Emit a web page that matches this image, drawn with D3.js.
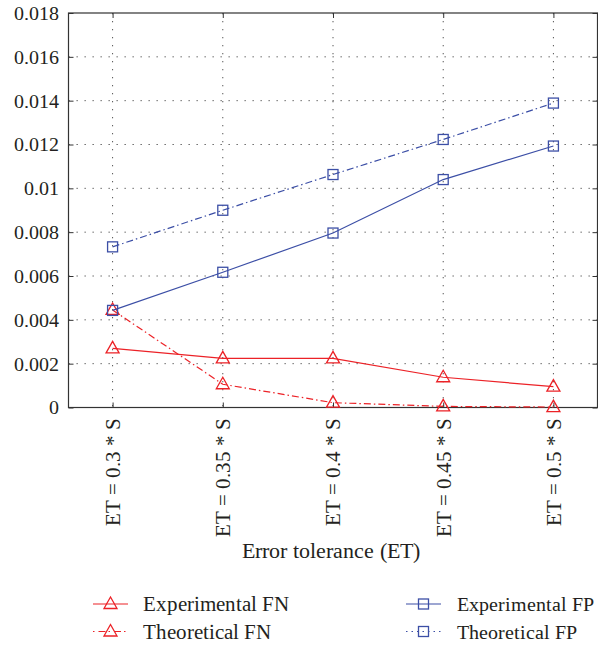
<!DOCTYPE html>
<html><head><meta charset="utf-8">
<script src="https://cdn.jsdelivr.net/npm/d3@7"></script>
<style>
@font-face{font-family:"ChartSerif";src:local("Liberation Serif"),local("LiberationSerif"),local("LiberationSerif-Regular");}
</style>
</head><body style="margin:0">
<svg id="c" width="598" height="646"></svg>
<script>
const categories = [0.3, 0.35, 0.4, 0.45, 0.5];
const catLabels = ["ET = 0.3 * S", "ET = 0.35 * S", "ET = 0.4 * S", "ET = 0.45 * S", "ET = 0.5 * S"];
const experimentalFN = [0.0027, 0.00224, 0.00224, 0.00138, 0.00095];
const theoreticalFN = [0.00445, 0.00106, 0.00022, 0.00005, 0.00002];
const experimentalFP = [0.00443, 0.00617, 0.00796, 0.0104, 0.01193];
const theoreticalFP = [0.00733, 0.009, 0.01063, 0.01223, 0.01389];
const yTicks = [0, 0.002, 0.004, 0.006, 0.008, 0.01, 0.012, 0.014, 0.016, 0.018];
const yTickLabels = ["0", "0.002", "0.004", "0.006", "0.008", "0.01", "0.012", "0.014", "0.016", "0.018"];
const xTitle = "Error tolerance (ET)";

const TXT = "#231f20";
const RED = "#ec2227", BLUE = "#3c4fa6";
const series = [
  {name: "Experimental FN", values: experimentalFN, color: RED, marker: "tri", dash: null},
  {name: "Theoretical FN", values: theoreticalFN, color: RED, marker: "tri", dash: "7,3,1.5,3"},
  {name: "Experimental FP", values: experimentalFP, color: BLUE, marker: "sq", dash: null},
  {name: "Theoretical FP", values: theoreticalFP, color: BLUE, marker: "sq", dash: "7,3,1.5,3"}
];

const L = 68.5, R = 597.5, T = 13, B = 407.5;
const x = d3.scaleLinear().domain([0.28, 0.52]).range([L, R]);
const y = d3.scaleLinear().domain([0, 0.018]).range([B, T]);
const svg = d3.select("#c");

function styleText(sel, size) {
  sel.style("font-family", '"ChartSerif", "Liberation Serif", serif').attr("font-size", size).attr("fill", TXT);
}

// grid
const g = svg.append("g");
g.selectAll(".gy").data(yTicks.slice(1, -1)).enter().append("line")
  .attr("x1", L).attr("x2", R).attr("y1", d => y(d)).attr("y2", d => y(d))
  .attr("stroke", "#555").attr("stroke-width", 1).attr("stroke-dasharray", "1.3,6.7");
g.selectAll(".gx").data(categories).enter().append("line")
  .attr("x1", d => x(d)).attr("x2", d => x(d)).attr("y1", T).attr("y2", B)
  .attr("stroke", "#555").attr("stroke-width", 1).attr("stroke-dasharray", "1.3,6.7");

// y tick labels and inward ticks
const yAxisL = d3.axisLeft(y).tickValues(yTicks).tickSize(-5).tickPadding(10).tickFormat((d, i) => yTickLabels[i]);
const ya = svg.append("g").attr("transform", `translate(${L},0)`).call(yAxisL);
ya.attr("font-family", null).attr("font-size", null);
ya.select(".domain").remove();
ya.selectAll("line").attr("stroke", "#333");
styleText(ya.selectAll("text"), 20);
const yr = svg.append("g").attr("transform", `translate(${R},0)`).call(d3.axisRight(y).tickValues(yTicks).tickSize(-5).tickFormat(""));
yr.select(".domain").remove(); yr.selectAll("line").attr("stroke", "#333");
const xt = svg.append("g").attr("transform", `translate(0,${T})`).call(d3.axisTop(x).tickValues(categories).tickSize(-5).tickFormat(""));
xt.select(".domain").remove(); xt.selectAll("line").attr("stroke", "#333");
const xb = svg.append("g").attr("transform", `translate(0,${B})`).call(d3.axisBottom(x).tickValues(categories).tickSize(-5).tickFormat(""));
xb.select(".domain").remove(); xb.selectAll("line").attr("stroke", "#333");
svg.append("rect").attr("x", L).attr("y", T).attr("width", R - L).attr("height", B - T)
  .attr("fill", "none").attr("stroke", "#333").attr("stroke-width", 1.2);

// x labels rotated
styleText(svg.append("g").selectAll("text").data(categories).enter().append("text")
  .attr("transform", d => `translate(${x(d)},418) rotate(-90)`)
  .attr("text-anchor", "end").attr("dy", "0.35em")
  .text((d, i) => catLabels[i]), 21);
styleText(svg.append("text").attr("x", (L + R) / 2 - 2).attr("y", 558).attr("text-anchor", "middle").text(xTitle), 21.5);

function marker(sel, type, color) {
  if (type === "sq") {
    sel.append("rect").attr("x", -5).attr("y", -5).attr("width", 10).attr("height", 10)
      .attr("fill", "none").attr("stroke", color).attr("stroke-width", 1.3);
  } else {
    sel.append("path").attr("d", "M0,-7 L6.5,4.5 L-6.5,4.5 Z")
      .attr("fill", "none").attr("stroke", color).attr("stroke-width", 1.3);
  }
}

const line = d3.line().x((d, i) => x(categories[i])).y(d => y(d));
series.forEach(s => {
  svg.append("path").attr("d", line(s.values)).attr("fill", "none")
    .attr("stroke", s.color).attr("stroke-width", 1.2)
    .attr("stroke-dasharray", s.dash);
  s.values.forEach((v, i) => {
    const m = svg.append("g").attr("transform", `translate(${x(categories[i])},${y(v)})`);
    marker(m, s.marker, s.color);
  });
});

// legend
const legPos = [
  {x0: 93, x1: 128, tx: 143, ty: 611, cy: 604, fs: 20.5},
  {x0: 93, x1: 128, tx: 143, ty: 638.5, cy: 631.5, fs: 20.5},
  {x0: 406, x1: 441, tx: 457, ty: 611, cy: 604, fs: 19.5},
  {x0: 406, x1: 441, tx: 457, ty: 638.5, cy: 631.5, fs: 20}
];
series.forEach((s, i) => {
  const p = legPos[i];
  svg.append("line").attr("x1", p.x0).attr("x2", p.x1).attr("y1", p.cy).attr("y2", p.cy)
    .attr("stroke", s.color).attr("stroke-width", 1.2)
    .attr("stroke-dasharray", s.dash ? (s.marker === "sq" ? "1.5,4" : "1.5,4,7,3") : null);
  const m = svg.append("g").attr("transform", `translate(${(p.x0 + p.x1) / 2},${p.cy})`);
  marker(m, s.marker, s.color);
  styleText(svg.append("text").attr("x", p.tx).attr("y", p.ty).text(s.name), p.fs);
});
</script>
</body></html>
